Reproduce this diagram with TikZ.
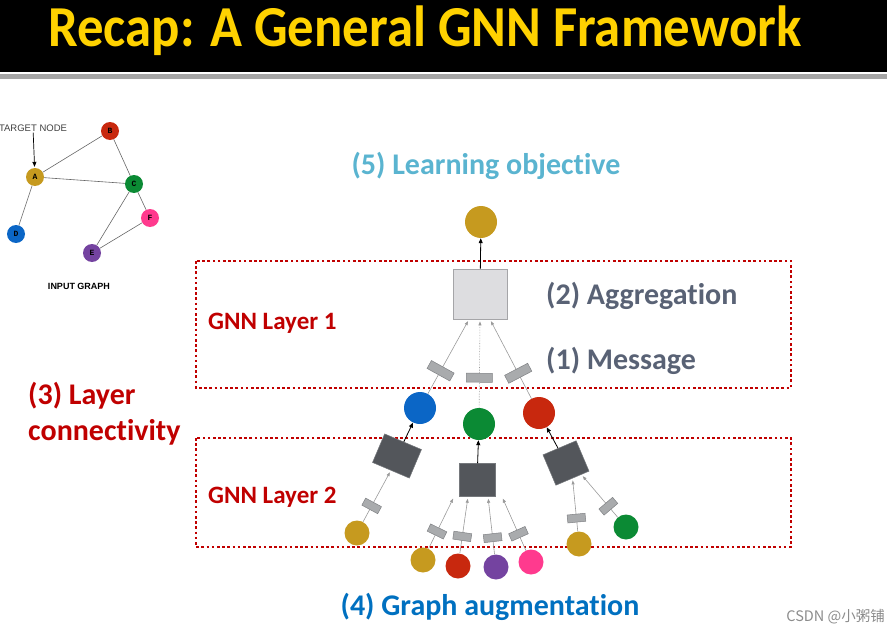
\documentclass[tikz,border=0pt]{standalone}
\usepackage{fontspec}
\setmainfont[Ligatures=NoCommon]{Carlito}
\newfontfamily\helvfont{Liberation Sans}
\newfontfamily\monofont{Liberation Mono}
\newfontfamily\cjkfont{Noto Sans CJK SC}
\usetikzlibrary{arrows.meta, positioning}

\definecolor{ngold}{HTML}{C69A1F}
\definecolor{nred}{HTML}{C8280E}
\definecolor{ngreen}{HTML}{0B8A34}
\definecolor{nblue}{HTML}{0B66C6}
\definecolor{npurple}{HTML}{7443A0}
\definecolor{npink}{HTML}{FF3A8E}
\definecolor{boxdark}{HTML}{53565B}
\definecolor{boxlight}{HTML}{DDDDE0}
\definecolor{boxedge}{HTML}{A5A5A8}
\definecolor{msgfill}{HTML}{A9ABAD}
\definecolor{msgedge}{HTML}{808285}
\definecolor{linegrey}{HTML}{9A9A9A}
\definecolor{dotred}{HTML}{C00000}
\definecolor{titleyellow}{HTML}{FFD200}
\definecolor{objblue}{HTML}{5AB4D0}
\definecolor{slate}{HTML}{596275}
\definecolor{augblue}{HTML}{0070C0}

\begin{document}
\begin{tikzpicture}[x=1pt, y=-1pt,
  vertex/.style={circle, minimum size=18pt, inner sep=0pt, font=\fontsize{8}{8}\selectfont\monofont\bfseries},
  emb/.style={circle, minimum size=32pt, inner sep=0pt},
  leaf/.style={circle, minimum size=25pt, inner sep=0pt},
  aggbox/.style={draw=boxedge, fill=boxlight, line width=0.8pt, minimum width=54pt, minimum height=50pt},
  darkbox/.style={fill=boxdark, draw=boxdark!80, line width=0.5pt, inner sep=0pt},
  msg/.style={sloped, draw=msgedge, fill=msgfill, inner sep=0pt, line width=0.5pt},
  bigmsg/.style={msg, minimum width=9pt, minimum height=26pt},
  smallmsg/.style={msg, minimum width=8pt, minimum height=18pt},
  msgline/.style={draw=linegrey, line width=0.6pt, -{Triangle[length=4pt,width=3pt]}, shorten >=2pt},
  uparrow/.style={draw=black, line width=0.8pt, -{Triangle[length=5pt,width=4pt]}},
  graphedge/.style={draw=black!60, line width=0.6pt},
  layerbox/.style={draw=dotred, line width=2.6pt, dash pattern=on 2.6pt off 2.6pt},
  bigtext/.style={font=\fontsize{30}{30}\selectfont\bfseries, inner sep=0pt},
  layertext/.style={font=\fontsize{25}{25}\selectfont\bfseries, text=dotred, inner sep=0pt, anchor=west}]
  \useasboundingbox (0,0) rectangle (887,634);

  % title bar
  \fill[black] (0,0) rectangle (887,72);
  \fill[black!35] (0,74) rectangle (887,79);
  \node[font=\fontsize{58}{58}\selectfont\bfseries, text=titleyellow, xscale=0.91, inner sep=0pt] (title) at (425,31) {Recap: A General GNN Framework};

  % input graph
  \node[vertex, fill=ngold] (A) at (35,177) {A};
  \node[vertex, fill=nred] (B) at (110,131) {B};
  \node[vertex, fill=ngreen] (C) at (134,184) {C};
  \node[vertex, fill=nblue] (D) at (16,234) {D};
  \node[vertex, fill=npurple] (E) at (92,253) {E};
  \node[vertex, fill=npink] (F) at (150,218) {F};
  \draw[graphedge] (A) -- (B);
  \draw[graphedge] (A) -- (C);
  \draw[graphedge] (A) -- (D);
  \draw[graphedge] (B) -- (C);
  \draw[graphedge] (C) -- (E);
  \draw[graphedge] (C) -- (F);
  \draw[graphedge] (E) -- (F);
  \node[font=\fontsize{9.5}{9.5}\selectfont\helvfont, text=black!75, inner sep=1pt] (target) at (33,128) {TARGET NODE};
  \draw[line width=0.7pt, -{Triangle[length=5pt,width=4pt]}, shorten >=1pt] (target) -- (A);
  \node[font=\fontsize{9}{9}\selectfont\helvfont\bfseries] (inputlabel) at (79,286) {INPUT GRAPH};

  % layer boxes
  \draw[layerbox] (196,261) rectangle (791,388);
  \draw[layerbox] (196,438) rectangle (791,547);

  % layer 1
  \node[emb, fill=ngold] (top) at (481,222) {};
  \node[aggbox] (agg) at (480,294) {};
  \node[emb, fill=nblue] (hblue) at (420,408) {};
  \node[emb, fill=ngreen] (hgreen) at (479,424) {};
  \node[emb, fill=nred] (hred) at (539,413) {};
  \draw[uparrow] (agg) -- (top);
  \draw[msgline] (hblue) -- node[bigmsg, pos=0.31] {} ([xshift=-11pt]agg.south);
  \draw[msgline, densely dotted] (hgreen) -- node[bigmsg, pos=0.34, solid] {} (agg.south);
  \draw[msgline] (hred) -- node[bigmsg, pos=0.32] {} ([xshift=10pt]agg.south);

  % layer 2
  \node[darkbox, minimum width=40pt, minimum height=31pt, rotate=-23] (boxL) at (397,456) {};
  \node[darkbox, minimum width=36pt, minimum height=33pt] (boxM) at (477,480) {};
  \node[darkbox, minimum width=36pt, minimum height=33pt, rotate=23] (boxR) at (566,463) {};
  \draw[uparrow] (boxL) -- (hblue);
  \draw[uparrow] (boxM) -- (hgreen);
  \draw[uparrow] (boxR) -- (hred);

  \node[leaf, fill=ngold] (l1) at (357,533) {};
  \node[leaf, fill=ngold] (m1) at (423,560) {};
  \node[leaf, fill=nred] (m2) at (458,566) {};
  \node[leaf, fill=npurple] (m3) at (496,567) {};
  \node[leaf, fill=npink] (m4) at (531,562) {};
  \node[leaf, fill=ngold] (r1) at (579,544) {};
  \node[leaf, fill=ngreen] (r2) at (626,527) {};
  \draw[msgline] (l1) -- node[smallmsg, pos=0.31] {} (boxL.south);
  \draw[msgline] (m1) -- node[smallmsg, pos=0.33] {} ([xshift=-23pt]boxM.south);
  \draw[msgline] (m2) -- node[smallmsg, pos=0.30] {} ([xshift=-9pt]boxM.south);
  \draw[msgline] (m3) -- node[smallmsg, pos=0.29] {} ([xshift=11pt]boxM.south);
  \draw[msgline] (m4) -- node[smallmsg, pos=0.31] {} ([xshift=25pt]boxM.south);
  \draw[msgline] (r1) -- node[smallmsg, pos=0.25] {} (boxR.south);
  \draw[msgline] (r2) -- node[smallmsg, pos=0.26] {} (boxR.-60);

  % labels
  \node[bigtext, text=objblue] (objective) at (486,166) {(5) Learning objective};
  \node[bigtext, text=slate, anchor=west] (aggregation) at (546,296) {(2) Aggregation};
  \node[bigtext, text=slate, anchor=west] (message) at (546,361) {(1) Message};
  \node[layertext] (layer1) at (208,323) {GNN Layer 1};
  \node[layertext] (layer2) at (208,497) {GNN Layer 2};
  \node[bigtext, text=dotred, anchor=west] (connect1) at (28,396) {(3) Layer};
  \node[bigtext, text=dotred, anchor=west] (connect2) at (28,432) {connectivity};
  \node[bigtext, text=augblue] (augment) at (490,607) {(4) Graph augmentation};
  \node[font=\fontsize{14.5}{14.5}\selectfont\cjkfont, text=black!45, anchor=east, inner sep=0pt] (mark) at (885,617) {CSDN @小粥铺};
\end{tikzpicture}
\end{document}
